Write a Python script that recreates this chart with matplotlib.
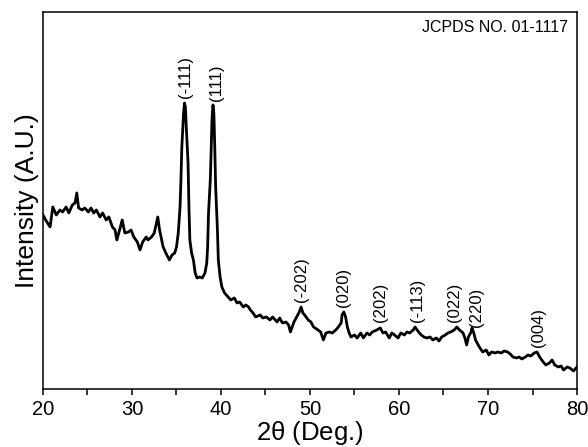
import numpy as np
import matplotlib
matplotlib.use("Agg")
import matplotlib.pyplot as plt
from matplotlib.ticker import MultipleLocator

plt.rcParams['font.family'] = ['Liberation Sans', 'DejaVu Sans']

# XRD pattern (intensity in arbitrary units)
two_theta = [
    20.0, 20.3, 20.8, 21.1, 21.5, 21.9, 22.2, 22.6, 22.9, 23.3, 23.6, 23.8, 24.0, 24.4,
    24.7, 25.1, 25.4, 25.7, 26.0, 26.4, 26.7, 27.1, 27.4, 27.8, 28.1, 28.3, 28.7, 28.9,
    29.2, 29.6, 29.9, 30.2, 30.6, 30.9, 31.2, 31.6, 31.8, 32.2, 32.5, 32.9, 33.1, 33.5,
    33.8, 34.2, 34.5, 34.8, 35.0, 35.2, 35.4, 35.5, 35.6, 35.8, 35.9, 36.0, 36.1, 36.3,
    36.4, 36.5, 36.7, 36.9, 37.1, 37.3, 37.6, 37.9, 38.2, 38.4, 38.5, 38.6, 38.8, 38.9,
    39.0, 39.1, 39.2, 39.3, 39.4, 39.6, 39.7, 39.9, 40.1, 40.4, 40.8, 41.1, 41.5, 41.8,
    42.1, 42.5, 42.8, 43.1, 43.3, 43.6, 43.9, 44.4, 44.7, 45.1, 45.5, 45.8, 46.3, 46.6,
    46.9, 47.3, 47.6, 47.8, 48.2, 48.5, 48.8, 49.0, 49.2, 49.4, 49.8, 50.1, 50.4, 50.9,
    51.2, 51.5, 51.8, 52.2, 52.5, 52.9, 53.1, 53.5, 53.6, 53.8, 54.0, 54.2, 54.4, 54.6,
    55.0, 55.3, 55.7, 56.0, 56.4, 56.7, 57.0, 57.5, 57.9, 58.2, 58.5, 58.9, 59.2, 59.5,
    59.9, 60.2, 60.6, 60.9, 61.2, 61.6, 61.8, 62.2, 62.5, 62.8, 63.1, 63.5, 63.8, 64.2,
    64.5, 64.8, 65.2, 65.5, 65.8, 66.2, 66.5, 66.8, 67.2, 67.4, 67.6, 67.8, 68.1, 68.2,
    68.4, 68.6, 68.9, 69.1, 69.4, 69.8, 70.1, 70.4, 70.8, 71.1, 71.5, 71.8, 72.2, 72.5,
    72.8, 73.2, 73.5, 73.8, 74.2, 74.5, 74.8, 75.2, 75.5, 75.8, 76.2, 76.5, 76.9, 77.2,
    77.5, 77.9, 78.2, 78.5, 78.9, 79.2, 79.6, 80.0,
]
intensity = [
    174, 169, 162, 182, 174, 179, 177, 182, 176, 184, 186, 196, 181, 179,
    181, 177, 181, 176, 179, 172, 176, 169, 172, 162, 159, 149, 162, 169,
    156, 157, 159, 152, 147, 139, 147, 152, 149, 152, 156, 172, 159, 142,
    136, 129, 134, 136, 142, 156, 182, 209, 242, 276, 286, 282, 262, 226,
    182, 149, 136, 129, 116, 111, 112, 111, 116, 126, 142, 176, 209, 242,
    272, 284, 276, 242, 202, 159, 129, 112, 102, 96, 92, 89, 91, 86,
    87, 82, 84, 82, 79, 76, 72, 74, 71, 72, 69, 72, 67, 71,
    66, 67, 64, 57, 67, 72, 77, 82, 76, 74, 69, 67, 62, 59,
    57, 49, 56, 57, 56, 59, 61, 66, 74, 77, 72, 62, 56, 52,
    54, 51, 56, 51, 56, 54, 57, 59, 61, 56, 57, 51, 56, 54,
    51, 56, 54, 57, 56, 59, 62, 57, 54, 52, 51, 52, 49, 51,
    48, 52, 54, 56, 57, 59, 62, 59, 56, 51, 44, 52, 57, 61,
    56, 49, 44, 41, 37, 39, 34, 37, 36, 37, 36, 38, 37, 35,
    32, 31, 32, 30, 32, 34, 33, 36, 37, 32, 27, 24, 26, 29,
    24, 22, 23, 19, 22, 21, 18, 22,
]

peak_labels = ['(-111)', '(111)', '(-202)', '(020)', '(202)', '(-113)', '(022)', '(220)', '(004)']
peak_pos = [35.96, 39.44, 49.1, 53.82, 57.87, 62.13, 66.29, 68.76, 75.62]

fig = plt.figure(figsize=(5.88, 4.47), dpi=100)
ax = fig.add_axes([0.0731, 0.1298, 0.9082, 0.8434])

ax.plot(two_theta, intensity, color='black', lw=2.0)

# label bottoms, a.u.
label_y = [291, 288, 87, 82, 67, 67, 67, 62, 42]
for lab, x, y in zip(peak_labels, peak_pos, label_y):
    ax.text(x, y, lab, rotation=90, ha='center', va='bottom', fontsize=12)

ax.text(0.983, 0.978, 'JCPDS NO. 01-1117', transform=ax.transAxes,
        ha='right', va='top', fontsize=11.5)

ax.set_xlim(20, 80)
ax.set_ylim(0, 377)
ax.xaxis.set_major_locator(MultipleLocator(10))
ax.xaxis.set_minor_locator(MultipleLocator(5))
ax.tick_params(axis='x', which='both', direction='out', labelsize=14.5, pad=4, width=1.1)
ax.tick_params(axis='x', which='major', length=4)
ax.tick_params(axis='x', which='minor', length=4)
ax.set_yticks([])
for s in ax.spines.values():
    s.set_linewidth(1.1)

ax.set_xlabel(r'2$\mathregular{\theta}$ (Deg.)', fontsize=18.5, labelpad=0)
ax.set_ylabel('Intensity (A.U.)', fontsize=19, labelpad=3)

fig.savefig('out.png', dpi=100)
